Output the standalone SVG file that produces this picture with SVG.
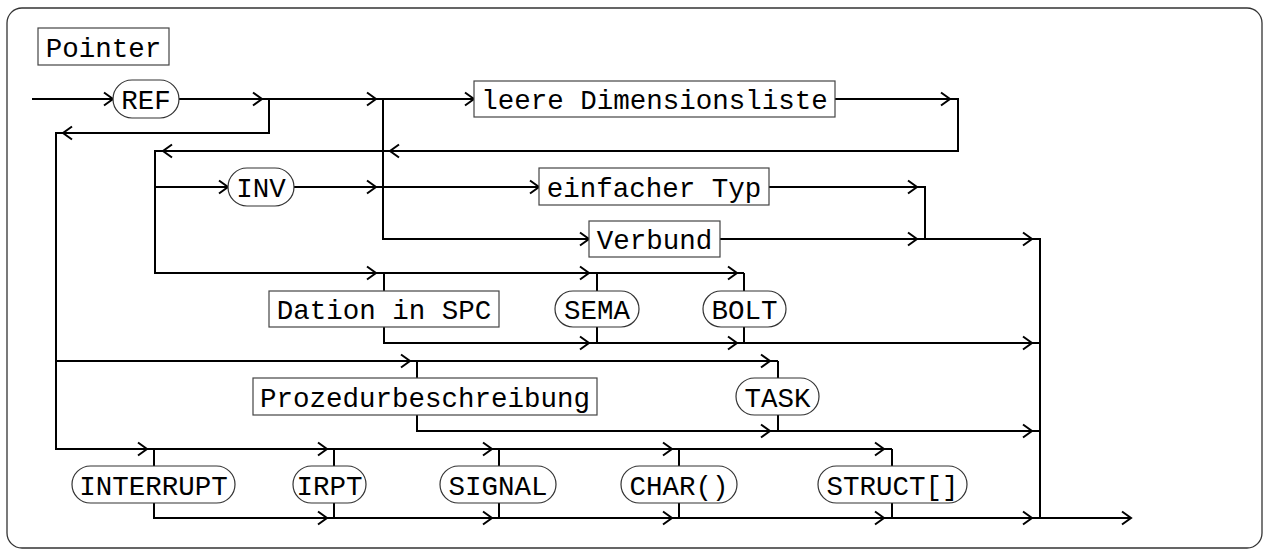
<svg xmlns="http://www.w3.org/2000/svg" xmlns:xlink="http://www.w3.org/1999/xlink" width="1270" height="556" viewBox="0 0 1270 556">
<style>
.frame{fill:#fff;stroke:#333;stroke-width:1.3}
.box{fill:#fff;stroke:#444;stroke-width:1.2}
.term{fill:#fff;stroke:#333;stroke-width:1.2}
.t{font-family:"Liberation Mono","DejaVu Sans Mono",monospace;font-size:27.5px;fill:#000;text-anchor:middle}
.c{fill:none;stroke:#000;stroke-width:2}
</style>
<defs>
<path id="ar" d="M-9,-6.5 L0,0 L-9,6.5" fill="none" stroke="#000" stroke-width="2"/>
<path id="al" d="M9,-6.5 L0,0 L9,6.5" fill="none" stroke="#000" stroke-width="2"/>
</defs>
<rect class="frame" x="7" y="8" width="1255" height="540" rx="15"/>
<g id="connectors">
<path class="c" d="M32,99 H113"/>
<path class="c" d="M179,99 H474"/>
<path class="c" d="M269,99 V133 H56 V449 H892"/>
<path class="c" d="M56,361 H778"/>
<path class="c" d="M383,99 V239 H589"/>
<path class="c" d="M835,99 H958 V151 H155 V273 H744"/>
<path class="c" d="M155,187 H228"/>
<path class="c" d="M294,187 H539"/>
<path class="c" d="M769,187 H925 V239"/>
<path class="c" d="M720,239 H1040 V518"/>
<path class="c" d="M384,273 V343 H1040"/>
<path class="c" d="M597,273 V343"/>
<path class="c" d="M744,273 V343"/>
<path class="c" d="M417,361 V431 H1040"/>
<path class="c" d="M778,361 V431"/>
<path class="c" d="M154,449 V518 H1131"/>
<path class="c" d="M334,449 V518"/>
<path class="c" d="M499,449 V518"/>
<path class="c" d="M679,449 V518"/>
<path class="c" d="M892,449 V518"/>
<use href="#ar" x="113" y="99"/>
<use href="#ar" x="262" y="99"/>
<use href="#ar" x="376" y="99"/>
<use href="#ar" x="474" y="99"/>
<use href="#ar" x="950" y="99"/>
<use href="#al" x="63" y="133"/>
<use href="#al" x="390" y="151"/>
<use href="#al" x="163" y="151"/>
<use href="#ar" x="228" y="187"/>
<use href="#ar" x="376" y="187"/>
<use href="#ar" x="539" y="187"/>
<use href="#ar" x="917" y="187"/>
<use href="#ar" x="589" y="239"/>
<use href="#ar" x="917" y="239"/>
<use href="#ar" x="1032" y="239"/>
<use href="#ar" x="376" y="273"/>
<use href="#ar" x="589" y="273"/>
<use href="#ar" x="737" y="273"/>
<use href="#ar" x="589" y="343"/>
<use href="#ar" x="737" y="343"/>
<use href="#ar" x="1032" y="343"/>
<use href="#ar" x="410" y="361"/>
<use href="#ar" x="770" y="361"/>
<use href="#ar" x="770" y="431"/>
<use href="#ar" x="1032" y="431"/>
<use href="#ar" x="147" y="449"/>
<use href="#ar" x="327" y="449"/>
<use href="#ar" x="492" y="449"/>
<use href="#ar" x="672" y="449"/>
<use href="#ar" x="884" y="449"/>
<use href="#ar" x="327" y="518"/>
<use href="#ar" x="492" y="518"/>
<use href="#ar" x="672" y="518"/>
<use href="#ar" x="884" y="518"/>
<use href="#ar" x="1032" y="518"/>
<use href="#ar" x="1131" y="518"/>
</g>
<g id="pointer"><rect class="box" x="38" y="28" width="131" height="37"/><text class="t" x="103.5" y="56.5">Pointer</text></g>
<g id="ref"><rect class="term" x="113" y="80" width="66" height="38" rx="19"/><text class="t" x="146" y="109">REF</text></g>
<g id="leere"><rect class="box" x="474" y="81" width="361" height="36"/><text class="t" x="654.5" y="109">leere Dimensionsliste</text></g>
<g id="inv"><rect class="term" x="228" y="168" width="66" height="38" rx="19"/><text class="t" x="261" y="197">INV</text></g>
<g id="einfacher"><rect class="box" x="539" y="168" width="230" height="37"/><text class="t" x="654" y="196.5">einfacher Typ</text></g>
<g id="verbund"><rect class="box" x="589" y="221" width="131" height="36"/><text class="t" x="654.5" y="249">Verbund</text></g>
<g id="dation"><rect class="box" x="269" y="291" width="230" height="36"/><text class="t" x="384" y="319">Dation in SPC</text></g>
<g id="sema"><rect class="term" x="555" y="291" width="84" height="36" rx="18"/><text class="t" x="597" y="319">SEMA</text></g>
<g id="bolt"><rect class="term" x="703" y="291" width="83" height="36" rx="18"/><text class="t" x="744.5" y="319">BOLT</text></g>
<g id="prozedur"><rect class="box" x="253" y="378" width="344" height="37"/><text class="t" x="425" y="406.5">Prozedurbeschreibung</text></g>
<g id="task"><rect class="term" x="736" y="378" width="83" height="37" rx="18.5"/><text class="t" x="777.5" y="406.5">TASK</text></g>
<g id="interrupt"><rect class="term" x="72" y="466" width="163" height="37" rx="18.5"/><text class="t" x="153.5" y="494.5">INTERRUPT</text></g>
<g id="irpt"><rect class="term" x="293" y="466" width="73" height="37" rx="18.5"/><text class="t" x="329.5" y="494.5">IRPT</text></g>
<g id="signal"><rect class="term" x="440" y="466" width="116" height="37" rx="18.5"/><text class="t" x="498" y="494.5">SIGNAL</text></g>
<g id="char"><rect class="term" x="621" y="466" width="116" height="37" rx="18.5"/><text class="t" x="679" y="494.5">CHAR()</text></g>
<g id="struct"><rect class="term" x="818" y="466" width="149" height="37" rx="18.5"/><text class="t" x="892.5" y="494.5">STRUCT[]</text></g>
</svg>
